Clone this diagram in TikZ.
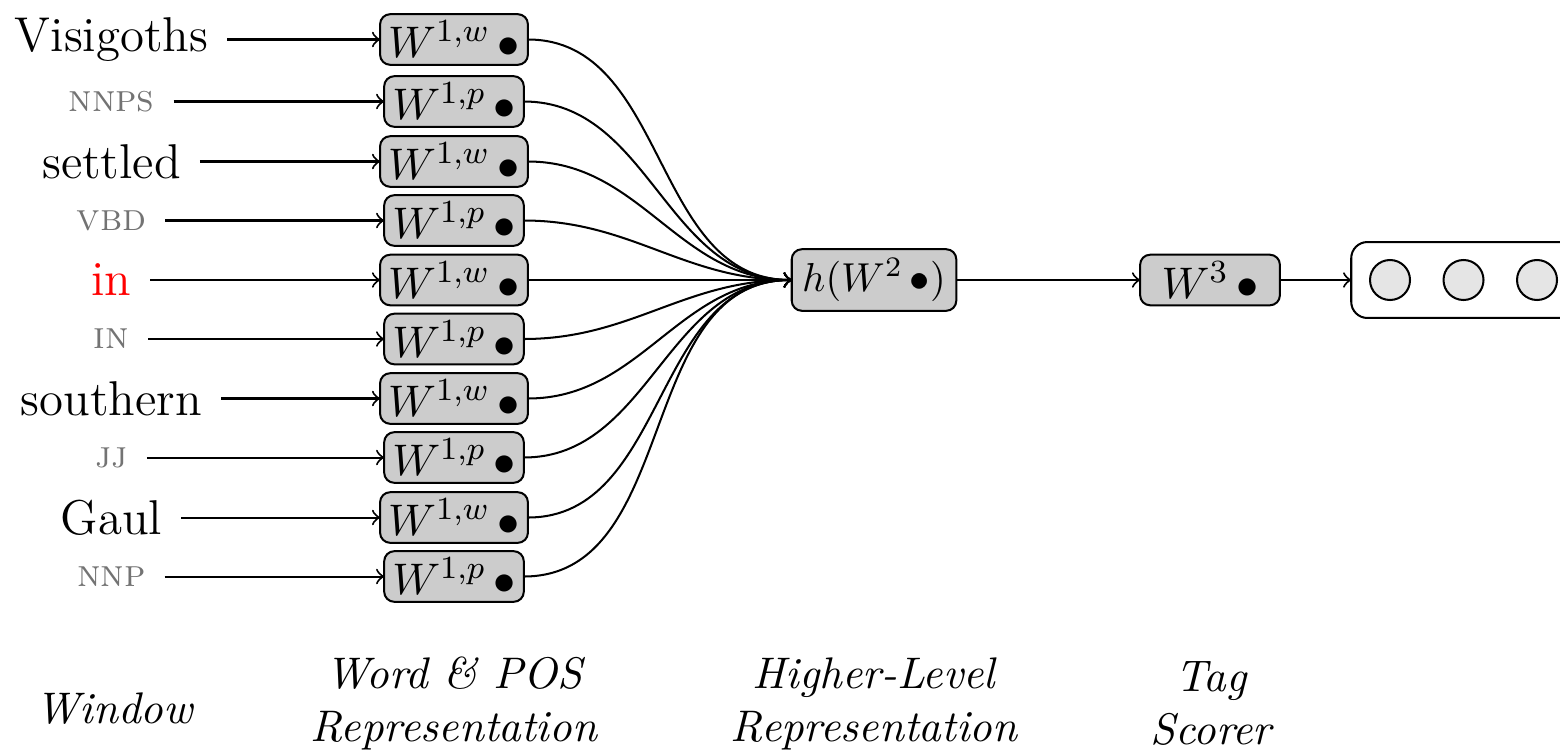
\documentclass[tikz,border=0pt]{standalone}
\usetikzlibrary{fit}
\begin{document}
\begin{tikzpicture}[x=0.2475pt,y=-0.2475pt,
  every node/.style={font=\fontsize{10.95}{13.6}\selectfont},
  wordlbl/.style={font=\fontsize{12.1}{14.5}\selectfont, inner xsep=4.7pt, inner ysep=0pt, outer sep=0pt},
  poslbl/.style={font=\fontsize{9.5}{11.5}\selectfont\scshape, text=black!55, inner xsep=4.7pt, inner ysep=0pt, outer sep=0pt},
  wbox/.style={draw, line width=0.5pt, fill=gray!40, rounded corners=2.5pt, inner xsep=2pt, inner ysep=1.7pt, outer sep=0pt},
  hbox/.style={wbox, font=\fontsize{10}{12}\selectfont, inner xsep=2.6pt, inner ysep=2.3pt},
  unitcirc/.style={draw, line width=0.5pt, circle, fill=gray!20, minimum size=9.9pt, inner sep=0pt},
  outbox/.style={draw, line width=0.5pt, rounded corners=4pt, inner xsep=4.4pt, inner ysep=4.2pt, outer sep=0pt},
  captxt/.style={font=\fontsize{10.95}{13.1}\selectfont\itshape, align=center},
  conn/.style={->, line width=0.5pt}
]
\useasboundingbox (0,0) rectangle (1560,750);
\clip (0,0) rectangle (1560,750);

% window labels
\node[wordlbl] (l1) at (111.5,39.5) {Visigoths};
\node[poslbl]  (l2) at (111.5,101.5) {\textsc{nnps}};
\node[wordlbl] (l3) at (111.5,161.5) {settled};
\node[poslbl]  (l4) at (111.5,220.5) {\textsc{vbd}};
\node[wordlbl,text=red] (l5) at (111.5,280) {in};
\node[poslbl]  (l6) at (111.5,339) {\textsc{in}};
\node[wordlbl] (l7) at (111.5,398.5) {southern};
\node[poslbl]  (l8) at (111.5,457.5) {\textsc{jj}};
\node[wordlbl] (l9) at (111.5,517.5) {Gaul};
\node[poslbl]  (l10) at (111.5,576.5) {\textsc{nnp}};

% first-layer boxes
\node[wbox] (b1) at (454,39.5) {$W^{1,w}\,\bullet$};
\node[wbox] (b2) at (454,101.5) {$W^{1,p}\,\bullet$};
\node[wbox] (b3) at (454,161.5) {$W^{1,w}\,\bullet$};
\node[wbox] (b4) at (454,220.5) {$W^{1,p}\,\bullet$};
\node[wbox] (b5) at (454,280) {$W^{1,w}\,\bullet$};
\node[wbox] (b6) at (454,339) {$W^{1,p}\,\bullet$};
\node[wbox] (b7) at (454,398.5) {$W^{1,w}\,\bullet$};
\node[wbox] (b8) at (454,457.5) {$W^{1,p}\,\bullet$};
\node[wbox] (b9) at (454,517.5) {$W^{1,w}\,\bullet$};
\node[wbox] (b10) at (454,576.5) {$W^{1,p}\,\bullet$};

% higher layers
\node[hbox] (h) at (874,280) {$h(W^{2}\,\bullet)$};
\node[wbox, minimum width=34.6pt] (w3) at (1210,280) {$W^{3}\,\bullet$};

\node[unitcirc] (c1) at (1390,280) {};
\node[unitcirc] (c2) at (1463.5,280) {};
\node[unitcirc] (c3) at (1537,280) {};
\node[outbox, fit=(c1)(c3)] (out) {};

% connectors
\foreach \i in {1,...,10} {
  \draw[conn] (l\i.east) -- (b\i.west);
  \draw[conn] (b\i.east) to[out=0,in=180] (h.west);
}
\draw[conn] (h.east) -- (w3.west);
\draw[conn] (w3.east) -- (out.west);

% captions
\node[captxt] (t1) at (114,709) {Window};
\node[captxt] (t2) at (454,703.5) {Word \& POS\\Representation};
\node[captxt] (t3) at (874,703.5) {Higher-Level\\Representation};
\node[captxt] (t4) at (1211,703.5) {Tag\\Scorer};
\end{tikzpicture}
\end{document}
